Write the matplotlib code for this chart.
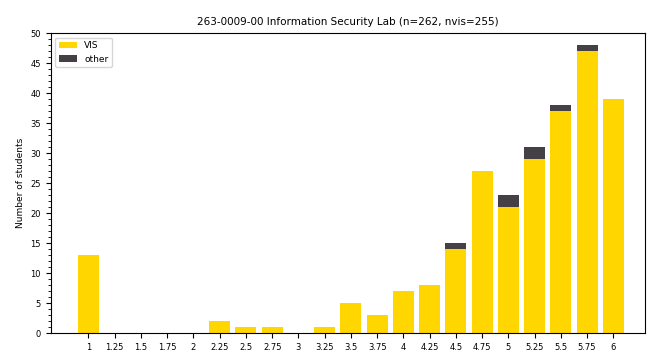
import numpy as np
import matplotlib.pyplot as plt
from matplotlib.ticker import MultipleLocator

# grades and counts per grade
grades = [1, 1.25, 1.5, 1.75, 2, 2.25, 2.5, 2.75, 3, 3.25, 3.5, 3.75,
          4, 4.25, 4.5, 4.75, 5, 5.25, 5.5, 5.75, 6]
vis = [13, 0, 0, 0, 0, 2, 1, 1, 0, 1, 5, 3, 7, 8, 14, 27, 21, 29, 37, 47, 39]
other = [0, 0, 0, 0, 0, 0, 0, 0, 0, 0, 0, 0, 0, 0, 1, 0, 2, 2, 1, 1, 0]
tick_labels = ['1', '1.25', '1.5', '1.75', '2', '2.25', '2.5', '2.75', '3',
               '3.25', '3.5', '3.75', '4', '4.25', '4.5', '4.75', '5', '5.25',
               '5.5', '5.75', '6']

fig = plt.figure(figsize=(6.5, 3.59), dpi=100)
ax = fig.add_axes([0.078, 0.072, 0.914, 0.836])

ax.bar(grades, vis, width=0.2, color='#ffd600', label='VIS')
ax.bar(grades, other, width=0.2, bottom=vis, color='#454045', label='other')

ax.set_ylim(0, 50)
ax.set_xlim(0.64, 6.3)
ax.set_xticks(grades)
ax.set_xticklabels(tick_labels, fontsize=6)
ax.yaxis.set_major_locator(MultipleLocator(5))
ax.yaxis.set_minor_locator(MultipleLocator(1))
ax.tick_params(axis='y', labelsize=6)
ax.set_ylabel('Number of students', fontsize=6.5)
ax.set_title('263-0009-00 Information Security Lab (n=262, nvis=255)', fontsize=7.5)
ax.legend(loc='upper left', fontsize=6.5)

fig.savefig('out.png', dpi=100)
